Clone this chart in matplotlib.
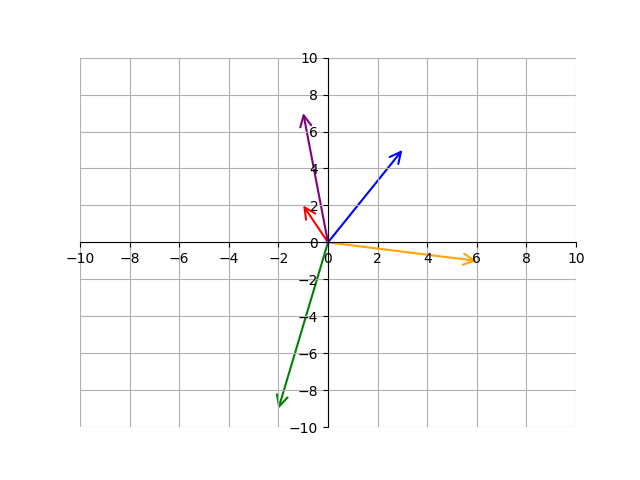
import matplotlib
matplotlib.use("Agg")
import matplotlib.pyplot as plt
from matplotlib.patches import FancyArrowPatch

# vectors drawn from the origin
vec_x = [3, -1, -1, 6, -2]
vec_y = [5, 2, 7, -1, -9]
colors = ["blue", "red", "purple", "orange", "green"]
ticks = list(range(-10, 11, 2))

fig, ax = plt.subplots(figsize=(6.4, 4.8), dpi=100)

for x, y, c in zip(vec_x, vec_y, colors):
    arrow = FancyArrowPatch((0, 0), (x, y), arrowstyle="->", color=c,
                            mutation_scale=20, lw=1.5, shrinkA=0, shrinkB=0)
    ax.add_patch(arrow)

ax.set_xlim(-10, 10)
ax.set_ylim(-10, 10)
ax.set_xticks(ticks)
ax.set_yticks(ticks)

ax.spines["left"].set_position("zero")
ax.spines["bottom"].set_position("zero")
ax.spines["right"].set_visible(False)
ax.spines["top"].set_visible(False)
ax.grid(True)

plt.savefig("out.png", dpi=100)
